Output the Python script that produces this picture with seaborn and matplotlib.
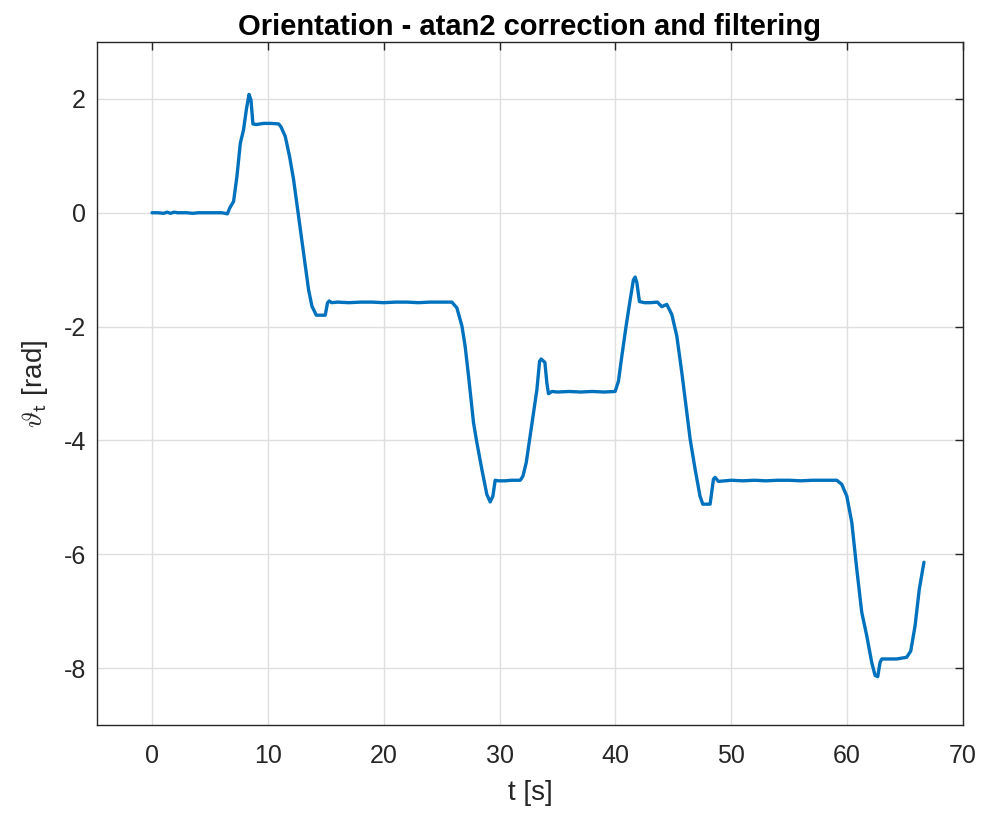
import matplotlib
matplotlib.use("Agg")
import matplotlib.pyplot as plt
import seaborn as sns
import pandas as pd

# time [s] and orientation [rad]
t_s = [0.0, 0.5, 1.0, 1.3, 1.6, 1.9, 2.2, 2.6, 3.0, 3.5, 4.0, 4.5, 5.0, 5.5, 6.0, 6.3, 6.5,
       6.7, 7.04, 7.33, 7.62, 7.9, 8.14, 8.37, 8.54, 8.71, 9.0, 9.63, 10.3, 10.93, 11.13,
       11.5, 11.87, 12.22, 12.65, 13.08, 13.51, 13.8, 14.18, 14.95, 15.15, 15.3, 15.5, 16.0,
       17.0, 18.0, 19.0, 20.0, 21.0, 22.0, 23.0, 24.0, 25.0, 25.88,
       26.31, 26.75, 27.03, 27.32, 27.75, 28.04, 28.47, 28.9, 29.19, 29.42, 29.62, 29.9,
       30.5, 31.0, 31.78, 32.01, 32.3, 32.64, 32.93, 33.22, 33.45, 33.59, 33.91, 34.08,
       34.22, 34.51, 35.0, 36.0, 37.0, 38.0, 39.0, 39.97,
       40.26, 40.55, 40.92, 41.27, 41.55, 41.7, 41.85, 42.07, 42.5, 43.0, 43.62, 44.0,
       44.43, 44.87, 45.3, 45.73, 46.16, 46.45, 46.88, 47.3, 47.54, 48.17, 48.46, 48.6,
       48.89, 49.5, 50.0, 51.0, 52.0, 53.0, 54.0, 55.0, 56.0, 57.0, 58.0, 59.1,
       59.53, 59.97, 60.4, 60.83, 61.26, 61.69, 62.12, 62.41, 62.64, 62.84, 62.99, 63.5,
       64.28, 65.14, 65.49, 65.86, 66.23, 66.63]
theta_rad = [0.0, 0.0, -0.01, 0.01, -0.01, 0.01, 0.0, 0.0, 0.0, -0.01, 0.0, 0.0, 0.0, 0.0, 0.0, -0.01, -0.02,
             0.08, 0.2, 0.64, 1.22, 1.46, 1.81, 2.08, 1.98, 1.56, 1.55, 1.57, 1.57, 1.56, 1.51,
             1.34, 0.99, 0.58, -0.06, -0.71, -1.35, -1.64, -1.80, -1.80, -1.58, -1.55, -1.58, -1.57,
             -1.58, -1.57, -1.57, -1.58, -1.57, -1.57, -1.58, -1.57, -1.57, -1.57,
             -1.67, -1.99, -2.35, -2.87, -3.69, -4.04, -4.51, -4.95, -5.08, -4.98, -4.70, -4.71,
             -4.71, -4.70, -4.70, -4.63, -4.39, -3.92, -3.51, -3.11, -2.61, -2.57, -2.63, -2.99,
             -3.18, -3.14, -3.15, -3.14, -3.15, -3.14, -3.15, -3.14,
             -2.96, -2.52, -1.99, -1.53, -1.18, -1.13, -1.23, -1.56, -1.58, -1.58, -1.57, -1.65,
             -1.61, -1.79, -2.17, -2.81, -3.51, -3.98, -4.51, -4.98, -5.12, -5.12, -4.68, -4.65,
             -4.72, -4.71, -4.70, -4.71, -4.70, -4.71, -4.70, -4.70, -4.71, -4.70, -4.70, -4.70,
             -4.77, -4.98, -5.44, -6.26, -7.02, -7.43, -7.90, -8.13, -8.15, -7.90, -7.84, -7.84,
             -7.84, -7.81, -7.70, -7.26, -6.61, -6.14]

x_ticks = [0, 10, 20, 30, 40, 50, 60, 70]
y_ticks = [2, 0, -2, -4, -6, -8]

sns.set_style("white")
plt.rcParams['font.family'] = ['Liberation Sans', 'DejaVu Sans']
plt.rcParams['mathtext.fontset'] = 'cm'

df = pd.DataFrame({"t": t_s, "theta": theta_rad})

fig = plt.figure(figsize=(9.82, 8.14), dpi=100)
ax = fig.add_axes([97 / 982, 1 - 725 / 814, (963 - 97) / 982, (725 - 42) / 814])

sns.lineplot(data=df, x="t", y="theta", ax=ax, color="#0072BD", linewidth=2.4,
             estimator=None, sort=False)

ax.set_xlim(-4.75, 70)
ax.set_ylim(-9, 3)
ax.set_xticks(x_ticks)
ax.set_yticks(y_ticks)
ax.set_xticklabels([str(v) for v in x_ticks])
ax.set_yticklabels([str(v) for v in y_ticks])
ax.grid(True, color="#DFDFDF", linewidth=1.0)
ax.set_axisbelow(True)
for s in ax.spines.values():
    s.set_visible(True)
    s.set_color("#262626")
    s.set_linewidth(1.0)
ax.tick_params(direction="in", length=6, width=1.0, color="#262626", labelsize=18,
               labelcolor="#262626", top=True, right=True)
ax.tick_params(axis="x", pad=14)
ax.tick_params(axis="y", pad=8)

ax.set_title("Orientation - atan2 correction and filtering", fontsize=21,
             fontweight="bold", color="black", pad=5)
ax.set_xlabel("t [s]", fontsize=20, color="#262626", labelpad=8)
ax.set_ylabel(r"$\vartheta_\mathsf{t}$ [rad]", fontsize=20, color="#262626", labelpad=10)

fig.savefig("out.png", dpi=100, facecolor="white")
